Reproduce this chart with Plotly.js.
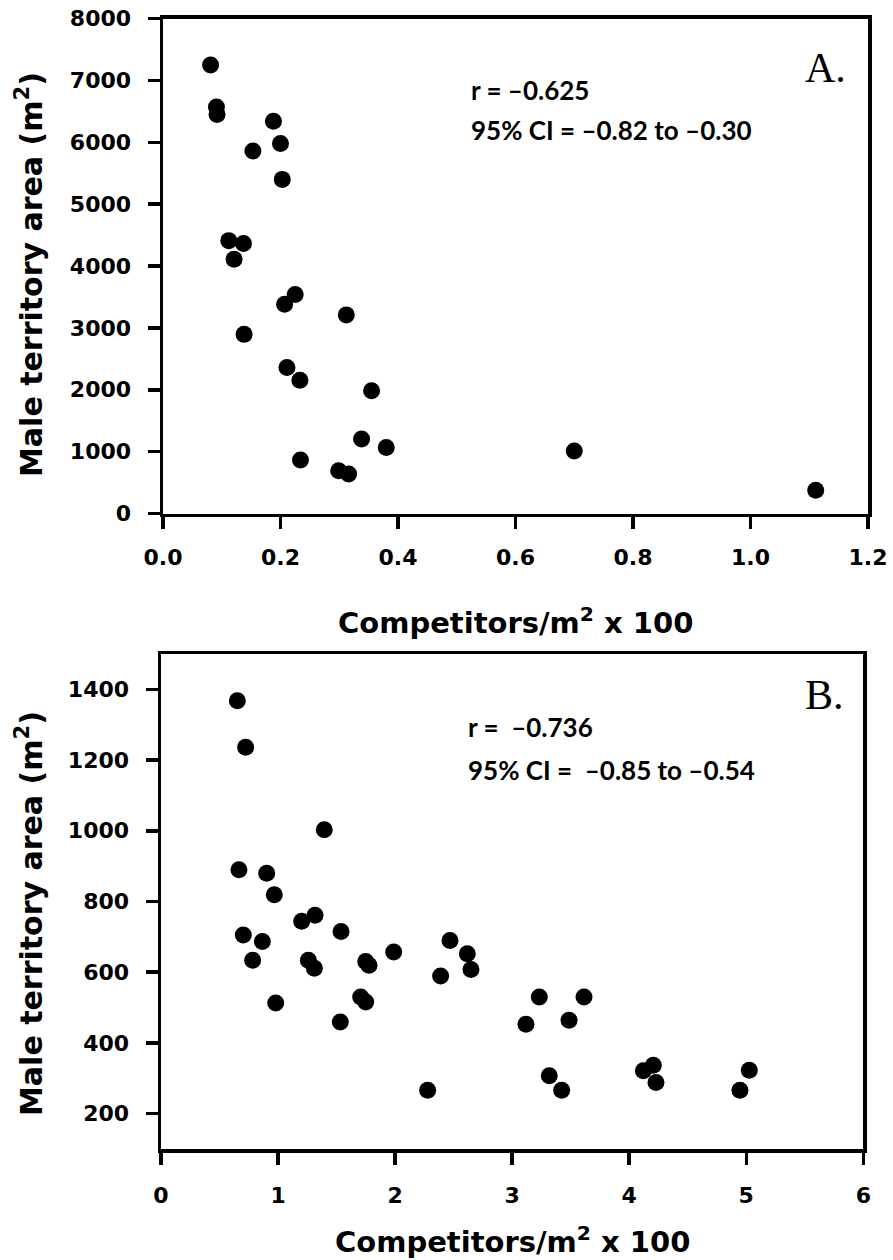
<!DOCTYPE html>
<html>
<head>
<meta charset="utf-8">
<script src="https://cdn.plot.ly/plotly-3.0.1.min.js"></script>
<style>html,body{margin:0;padding:0;background:#fff;}#chart{width:893px;height:1260px;}</style>
</head>
<body>
<div id="chart"></div>
<script>
// Panel A data
const densityA = [0.081,0.091,0.092,0.188,0.200,0.153,0.203,0.112,0.137,0.121,0.225,0.207,0.312,0.138,0.211,0.233,0.355,0.338,0.380,0.234,0.299,0.316,0.700,1.111];
const areaA    = [7250,6570,6450,6340,5980,5860,5400,4410,4365,4110,3540,3380,3210,2895,2360,2155,1985,1205,1065,865,690,640,1010,375];
// Panel B data
const densityB = [0.652,0.723,1.395,0.666,0.903,0.968,1.202,1.316,1.538,0.703,0.866,0.783,1.259,1.310,1.749,1.777,1.988,0.980,1.706,1.749,1.532,2.278,2.469,2.617,2.648,2.389,3.232,3.614,3.118,3.486,3.317,3.423,4.206,4.121,4.229,5.026,4.946];
const areaB    = [1368,1236,1003,890,880,819,744,761,715,705,687,634,634,611,630,620,657,513,530,516,459,266,690,652,608,589,530,530,453,464,307,266,337,321,288,323,266];

const ticksAy = [0,1000,2000,3000,4000,5000,6000,7000,8000];
const ticksAx = [0,0.2,0.4,0.6,0.8,1.0,1.2];
const ticksAxText = ['0.0','0.2','0.4','0.6','0.8','1.0','1.2'];
const ticksBy = [200,400,600,800,1000,1200,1400];
const ticksBx = [0,1,2,3,4,5,6];

const statsA = ['r = \u20130.625','95% CI = \u20130.82 to \u20130.30'];
const statsB = ['r = \u00a0\u20130.736','95% CI = \u00a0\u20130.85 to \u20130.54'];
const xTitle = 'Competitors/m<sup>2</sup> x 100';
const yTitle = 'Male territory area (m<sup>2</sup>)';

const W = 893, H = 1260;
const px = v => v / W;
const py = v => 1 - v / H;

const axFont = {family:'DejaVu Sans', size:22, color:'#000', weight:'bold'};
const xTitleFont = {family:'DejaVu Sans', size:29, color:'#000', weight:'bold'};
const yTitleFont = {family:'DejaVu Sans', size:30, color:'#000', weight:'bold'};
const statFont = {family:'Lato', size:26, color:'#000', weight:'bold'};
const letterFont = {family:'Liberation Serif', size:42, color:'#000'};

const baseAxis = {
  showline:true, linecolor:'#000', linewidth:3.5, mirror:true,
  ticks:'outside', ticklen:12, tickwidth:3.5, tickcolor:'#000',
  showgrid:false, zeroline:false, tickfont:axFont, fixedrange:true
};

const marker = {size:17, color:'#000'};
const data = [
  {x:densityA, y:areaA, type:'scatter', mode:'markers', marker:marker, xaxis:'x', yaxis:'y', hoverinfo:'skip'},
  {x:densityB, y:areaB, type:'scatter', mode:'markers', marker:marker, xaxis:'x2', yaxis:'y2', hoverinfo:'skip'}
];

const ann = [];
function addText(text, x, y, font, opts) {
  ann.push(Object.assign({text:text, x:px(x), y:py(y), xref:'paper', yref:'paper', showarrow:false, font:font, xanchor:'left', yanchor:'middle'}, opts||{}));
}
addText(statsA[0], 469, 90, statFont);
addText(statsA[1], 469, 130, statFont);
addText('A.', 803, 68, letterFont);
addText(statsB[0], 466, 727, statFont);
addText(statsB[1], 466, 770, statFont);
addText('B.', 803, 695, letterFont);
addText(xTitle, 515, 621, xTitleFont, {xanchor:'center'});
addText(xTitle, 512, 1240, xTitleFont, {xanchor:'center'});
addText(yTitle, 29, 275, yTitleFont, {xanchor:'center', textangle:-90});
addText(yTitle, 29, 914, yTitleFont, {xanchor:'center', textangle:-90});

const layout = {
  width:W, height:H, margin:{l:0,r:0,t:0,b:0}, showlegend:false,
  paper_bgcolor:'#fff', plot_bgcolor:'#fff',
  xaxis: Object.assign({}, baseAxis, {domain:[px(163), px(868)], range:[0,1.2], tickvals:ticksAx, ticktext:ticksAxText, anchor:'y', ticklabelstandoff:10}),
  yaxis: Object.assign({}, baseAxis, {domain:[py(513.5), py(18.5)], range:[0,8000], tickvals:ticksAy, anchor:'x', ticklabelstandoff:12}),
  xaxis2: Object.assign({}, baseAxis, {domain:[px(161), px(863.3)], range:[0,6], tickvals:ticksBx, anchor:'y2', ticklabelstandoff:12}),
  yaxis2: Object.assign({}, baseAxis, {domain:[py(1149), py(654)], range:[100,1500], tickvals:ticksBy, anchor:'x2', ticklabelstandoff:12}),
  annotations: ann
};

Plotly.newPlot('chart', data, layout, {displayModeBar:false, staticPlot:true});
</script>
</body>
</html>
